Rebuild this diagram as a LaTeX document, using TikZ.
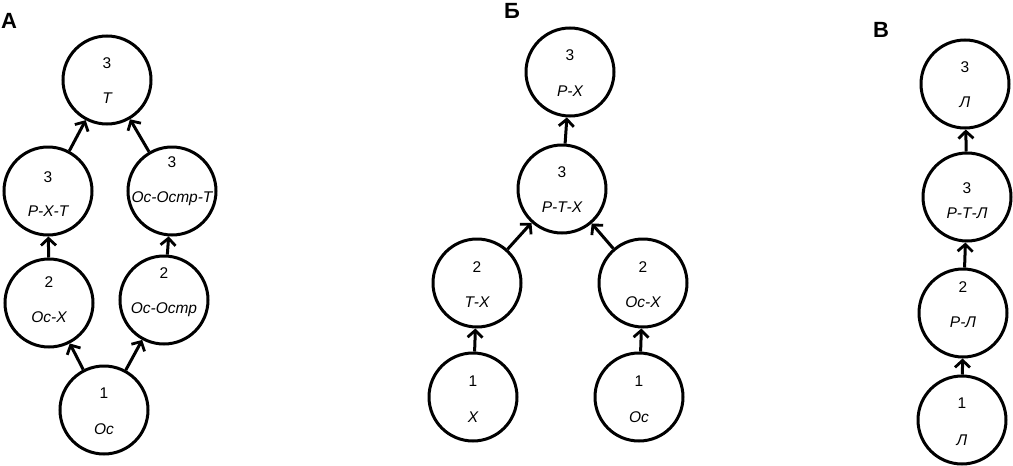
\documentclass[tikz,border=0pt]{standalone}
\usepackage{fontspec}
\setmainfont{Liberation Sans}
\usetikzlibrary{arrows.meta,calc}
\tikzset{
  circ/.style={circle,draw,line width=3pt,minimum size=88pt,inner sep=0pt},
  txt/.style={inner sep=0pt,text height=11pt,text depth=0pt,font=\fontsize{15.5}{16}\selectfont},
  nm/.style={txt,font=\fontsize{15.5}{16}\selectfont\itshape},
  panel/.style={inner sep=0pt,font=\fontsize{22}{23}\selectfont\bfseries},
  arr/.style={line width=3pt,-{Straight Barb[length=7pt,width=15pt,line width=2.8pt]}}
}
\newcommand\bub[6]{%
  \node[circ] (#1) at (#2) {};
  \node[txt] (#1n) at ($(#1)+(0,#4)$) {#3};
  \node[nm] (#1t) at ($(#1)+(0,#6)$) {#5};
}
\begin{document}
\begin{tikzpicture}[x=1pt,y=-1pt]
\useasboundingbox (0,0) rectangle (1013,466);
% panel labels
\node[panel] (LA) at (9,21) {А};
\node[panel] (LB) at (512,11) {Б};
\node[panel] (LC) at (881,30) {В};
% A
\bub{a1}{107,80}{3}{-17}{Т}{18}
\bub{a2}{48,191}{3}{-14}{Р-Х-Т}{20}
\bub{a3}{172,191}{3}{-29}{Ос-Остр-Т}{6}
\bub{a4}{49,303}{2}{-21}{Ос-Х}{14}
\bub{a5}{164,300}{2}{-27}{Ос-Остр}{8}
\bub{a6}{104,410}{1}{-17}{Ос}{19}
\draw[arr] (a6) -- (a4);
\draw[arr] (a6) -- (a5);
\draw[arr] (a4) -- (a2);
\draw[arr] (a5) -- (a3);
\draw[arr] (a2) -- (a1);
\draw[arr] (a3) -- (a1);
% B
\bub{b1}{570,72}{3}{-17}{Р-Х}{19}
\bub{b2}{562,189}{3}{-17}{Р-Т-Х}{18}
\bub{b3}{477,283}{2}{-16}{Т-Х}{19}
\bub{b4}{643,283}{2}{-16}{Ос-Х}{19}
\bub{b5}{473,397}{1}{-16}{Х}{20}
\bub{b6}{639,397}{1}{-16}{Ос}{20}
\draw[arr] (b5) -- (b3);
\draw[arr] (b6) -- (b4);
\draw[arr] (b3) -- (b2);
\draw[arr] (b4) -- (b2);
\draw[arr] (b2) -- (b1);
% C
\bub{c1}{965,84}{3}{-17}{Л}{18}
\bub{c2}{967,197}{3}{-9}{Р-Т-Л}{16}
\bub{c3}{963,313}{2}{-26}{Р-Л}{9}
\bub{c4}{962,420}{1}{-17}{Л}{20}
\draw[arr] (c4) -- (c3);
\draw[arr] (c3) -- (c2);
\draw[arr] (c2) -- (c1);
\end{tikzpicture}
\end{document}
